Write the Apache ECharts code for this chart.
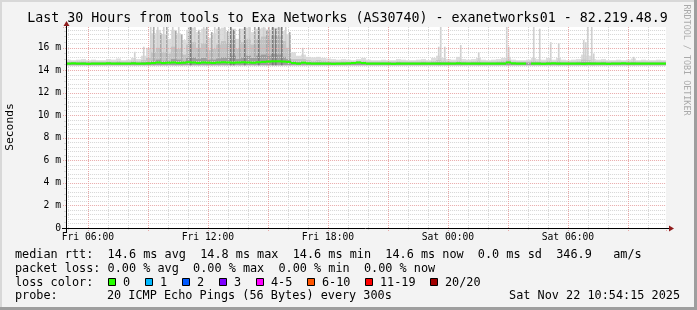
<!DOCTYPE html>
<html><head><meta charset="utf-8">
<script src="https://cdn.jsdelivr.net/npm/echarts@6/dist/echarts.min.js"></script>
<style>html,body{margin:0;padding:0;background:#f3f3f3;}#c{width:697px;height:310px;}</style>
</head><body><div id="c"></div>
<script>
// ---- time frame (hours since Fri 00:00) ----
const T0 = 4 + 54/60 + 15/3600;   // Fri 04:54:15
const T1 = T0 + 30;               // Sat 10:54:15
const AXIS_MIN = 3;               // tick origin (multiple of the 3h interval)
const STEP = 0.25;                // 15-minute buckets
const SAMPLE = 5/60;              // 5-minute sample
const LO = 14.45;                 // lowest ping (ms)
const Y_MAX = 17.85;

// ---- tick labels ----
const xTickHours  = [6, 12, 18, 24, 30];
const xTickLabels = ['Fri 06:00', 'Fri 12:00', 'Fri 18:00', 'Sat 00:00', 'Sat 06:00'];
const yTickValues = [0, 2, 4, 6, 8, 10, 12, 14, 16];
const yTickLabels = ['0', '2 m', '4 m', '6 m', '8 m', '10 m', '12 m', '14 m', '16 m'];

// ---- smoke: top of each grey band per 15-min bucket (ms) ----
const lightTop = [
  14.95,14.9,14.95,15.0,14.9,14.95,14.9,14.9,15.0,14.95,15.05,14.9,14.95,15.1,15.0,15.3,
  16.0,17.3,17.6,17.2,16.8,17.6,17.3,16.7,17.6,17.8,17.4,17.7,16.9,17.3,17.7,17.8,17.4,17.7,16.8,17.7,17.8,17.4,17.7,17.8,17.6,17.8,17.8,17.5,17.2,15.6,
  15.3,15.4,15.2,15.15,15.2,15.1,15.05,15.0,
  14.95,15.0,14.95,14.9,15.0,15.1,14.95,14.9,
  14.9,14.95,14.9,14.9,15.0,14.95,14.9,14.9,14.95,15.0,14.9,15.1,
  15.3,15.1,15.0,14.95,
  15.2,15.0,14.95,15.0,
  15.1,14.95,14.9,14.95,15.0,15.1,
  15.2,14.95,14.9,14.9,
  14.95,15.1,15.0,14.95,
  15.1,14.95,15.1,14.95,
  14.9,14.95,15.0,15.4,15.3,15.0,
  14.95,15.0,14.9,14.9,14.95,14.9,
  14.95,15.05,14.9,14.95,14.9,14.9,14.95,14.9
];
const midTop = [
  14.78,14.78,14.8,14.8,14.78,14.78,14.78,14.78,14.8,14.78,14.82,14.78,14.78,14.85,14.8,14.9,
  15.1,15.6,16.0,15.6,15.5,16.1,15.9,15.4,16.3,16.5,16.0,16.4,15.8,15.9,16.3,16.6,16.4,16.8,15.9,16.5,16.8,16.3,16.8,17.0,16.7,17.1,17.0,16.6,16.0,15.0,
  15.0,15.0,14.9,14.85,14.9,14.85,14.8,14.8,
  14.78,14.8,14.78,14.8,14.85,14.85,14.78,14.78,
  14.78,14.78,14.78,14.78,14.8,14.78,14.78,14.78,14.78,14.8,14.78,14.82,
  14.9,14.85,14.8,14.78,
  14.85,14.8,14.78,14.8,
  14.85,14.78,14.78,14.78,14.8,14.85,
  14.9,14.78,14.78,14.78,
  14.78,14.85,14.8,14.78,
  14.85,14.78,14.85,14.78,
  14.78,14.78,14.8,14.95,14.9,14.8,
  14.78,14.8,14.78,14.78,14.78,14.78,
  14.78,14.8,14.78,14.78,14.78,14.78,14.78,14.78
];
const darkTop = [
  14.68,14.68,14.68,14.7,14.68,14.68,14.68,14.68,14.7,14.68,14.7,14.68,14.68,14.72,14.68,14.72,
  14.75,14.85,14.95,14.85,14.85,15.0,14.95,14.85,15.1,15.15,15.0,15.1,14.95,14.95,15.05,15.15,15.1,15.3,15.0,15.15,15.3,15.1,15.3,15.4,15.3,15.45,15.4,15.2,15.0,14.8,
  14.75,14.75,14.72,14.7,14.72,14.7,14.7,14.7,
  14.68,14.7,14.68,14.7,14.72,14.7,14.68,14.68,
  14.68,14.68,14.68,14.68,14.7,14.68,14.68,14.68,14.68,14.7,14.68,14.7,
  14.72,14.7,14.7,14.68,
  14.7,14.7,14.68,14.7,
  14.7,14.68,14.68,14.68,14.7,14.7,
  14.72,14.68,14.68,14.68,
  14.68,14.7,14.7,14.68,
  14.7,14.68,14.7,14.68,
  14.68,14.68,14.7,14.75,14.72,14.7,
  14.68,14.7,14.68,14.68,14.68,14.68,
  14.68,14.7,14.68,14.68,14.68,14.68,14.68,14.68
];
// ---- single 5-minute samples with high spread: [hour, top ms] ----
const spikesLight = [
  [8.30,15.65],[8.75,16.1],[9.10,17.85],[9.45,17.85],[9.75,17.85],[10.20,17.85],[10.50,17.85],
  [11.30,17.85],[11.75,17.85],[12.30,17.85],[12.80,17.85],[14.05,17.85],[14.75,17.85],[15.85,17.85],
  [16.70,16.0],[23.50,16.1],[23.60,17.85],[23.80,16.1],[24.60,16.25],[25.50,15.6],[26.90,17.85],
  [27.00,16.1],[28.25,17.85],[28.55,17.7],[29.10,16.5],[29.50,16.4],[30.75,16.7],[30.85,16.5],
  [30.95,17.85],[31.15,17.85],[31.25,15.5],[33.25,15.2]
];
const spikesMid = [
  [9.25,17.85],[9.60,17.3],[9.90,17.85],[10.35,17.5],[10.65,17.2],[11.00,17.85],[11.50,17.6],[11.90,17.85],
  [12.15,17.4],[12.50,17.85],[12.95,17.5],[13.55,17.7],[14.30,17.85],[14.90,17.6],[15.00,17.85],[15.50,17.85],[16.05,17.4]
];
const spikesDark = [
  [11.10,17.85],[13.10,17.85],[13.25,17.6],[13.80,17.85],[14.50,17.85],[15.20,17.85],[15.35,17.7],[15.65,17.85]
];
// ---- median rtt per 15-min bucket (ms), null = no data ----
const median = [
  14.6,14.62,14.6,14.6,14.58,14.6,14.6,14.6,14.62,14.6,14.6,14.6,14.6,14.62,14.6,14.6,
  14.62,14.65,14.7,14.65,14.68,14.7,14.66,14.68,14.72,14.7,14.66,14.7,14.68,14.66,14.7,14.72,14.7,14.68,14.7,14.72,14.7,14.68,14.72,14.75,14.78,14.8,14.8,14.78,14.75,14.65,
  14.6,14.68,14.62,14.6,14.6,14.6,14.6,14.58,
  14.6,14.6,14.62,14.65,14.7,14.65,14.6,14.6,
  14.6,14.6,14.6,14.58,14.6,14.6,14.6,14.6,14.6,14.6,14.6,14.6,
  14.6,14.6,14.6,14.6,
  14.62,14.6,14.6,14.6,
  14.6,14.6,14.6,14.6,14.6,14.6,
  14.7,14.62,14.6,14.6,
  null,14.6,14.6,14.58,
  14.6,14.62,14.6,14.6,
  14.6,14.6,14.6,14.58,14.6,14.6,
  14.6,14.6,14.58,14.6,14.6,14.62,
  14.6,14.6,14.6,14.6,14.6,14.6,14.6,14.6
];
// ---- legend ----
const lossLabels = ['0', '1', '2', '3', '4-5', '6-10', '11-19', '20/20'];
const lossColors = ['#26ff00', '#00b8ff', '#0059ff', '#7e00ff', '#ff00ff', '#ff5500', '#ff0000', '#a10000'];
const legendRtt  = 'median rtt:  14.6 ms avg  14.8 ms max  14.6 ms min  14.6 ms now  0.0 ms sd  346.9   am/s';
const legendLoss = 'packet loss: 0.00 % avg  0.00 % max  0.00 % min  0.00 % now';
const probeText  = '20 ICMP Echo Pings (56 Bytes) every 300s';
const stampText  = 'Sat Nov 22 10:54:15 2025';
const titleText  = 'Last 30 Hours from tools to Exa Networks (AS30740) - exanetworks01 - 82.219.48.9';

// ---- build ----
const MONO = 'DejaVu Sans Mono';
const PX_PER_H = 20, PLOT_L = 66;
const gridLeft = PLOT_L - (T0 - AXIS_MIN) * PX_PER_H;
const gridWidth = (T1 - AXIS_MIN) * PX_PER_H;
const yOff = -(T0 - AXIS_MIN) * PX_PER_H;

function bucketRows(tops) {
  const out = [];
  tops.forEach((v, i) => { if (v != null) out.push([T0 + i*STEP, T0 + (i+1)*STEP, LO, v]); });
  return out;
}
function spikeRows(list) { return list.map(s => [s[0], s[0] + SAMPLE, LO, s[1]]); }
function medianRows() {
  const out = [];
  median.forEach((v, i) => { if (v != null) out.push([T0 + i*STEP, T0 + (i+1)*STEP, v]); });
  return out;
}
function rectItem(params, api) {
  const a = api.coord([api.value(0), api.value(3)]);
  const b = api.coord([api.value(1), api.value(2)]);
  return { type: 'rect', shape: { x: a[0], y: a[1], width: b[0] - a[0], height: b[1] - a[1] },
           style: { fill: api.visual('color') } };
}
function medItem(params, api) {
  const a = api.coord([api.value(0), api.value(2)]);
  const b = api.coord([api.value(1), api.value(2)]);
  return { type: 'rect', shape: { x: a[0], y: a[1] - 1.05, width: b[0] - a[0], height: 2.1 },
           style: { fill: api.visual('color') } };
}
function smoke(name, rows, color) {
  return { type: 'custom', name, renderItem: rectItem, data: rows, clip: true,
           encode: { x: [0, 1], y: [2, 3] }, itemStyle: { color }, silent: true };
}
function near(a, b) { return Math.abs(a - b) < 1e-6; }

const RED = '#e8a8a8', GREY = '#d6d6d6';
const F = '11.84px "' + MONO + '"';
const chart = echarts.init(document.getElementById('c'), null, { renderer: 'canvas' });
const graphics = [
  { type: 'rect', z: 5, shape: { x: 0, y: 20, width: 66, height: 212 }, style: { fill: '#f3f3f3' } },
  { type: 'rect', z: 6, shape: { x: 0, y: 0, width: 697, height: 2 }, style: { fill: '#d8d8d8' } },
  { type: 'rect', z: 6, shape: { x: 0, y: 0, width: 2, height: 310 }, style: { fill: '#d8d8d8' } },
  { type: 'rect', z: 6, shape: { x: 694, y: 0, width: 3, height: 310 }, style: { fill: '#9e9e9e' } },
  { type: 'rect', z: 6, shape: { x: 0, y: 307, width: 697, height: 3 }, style: { fill: '#9e9e9e' } },
  { type: 'text', z: 6, x: 347.5, y: 19, style: { text: titleText, font: '13.3px "' + MONO + '"', fill: '#000', align: 'center', verticalAlign: 'middle' } },
  { type: 'text', z: 6, x: 10.5, y: 127, rotation: Math.PI/2, style: { text: 'Seconds', font: '11.3px "' + MONO + '"', fill: '#000', align: 'center', verticalAlign: 'middle' } },
  { type: 'text', z: 6, x: 686.5, y: 60, rotation: -Math.PI/2, style: { text: 'RRDTOOL / TOBI OETIKER', font: '8.4px "' + MONO + '"', fill: '#aaaaaa', align: 'center', verticalAlign: 'middle' } },
  { type: 'line', z: 50, shape: { x1: 62, y1: 228.5, x2: 669, y2: 228.5 }, style: { stroke: '#000', lineWidth: 1 } },
  { type: 'line', z: 50, shape: { x1: 66.5, y1: 232, x2: 66.5, y2: 25 }, style: { stroke: '#000', lineWidth: 1 } },
  { type: 'polygon', z: 51, shape: { points: [[669, 225.5], [674, 228.5], [669, 231.5]] }, style: { fill: '#8f1c1c' } },
  { type: 'polygon', z: 51, shape: { points: [[63.5, 26], [66.5, 21], [69.5, 26]] }, style: { fill: '#8f1c1c' } },
  { type: 'text', z: 6, x: 15, y: 255, style: { text: legendRtt, font: F, fill: '#000', verticalAlign: 'middle' } },
  { type: 'text', z: 6, x: 15, y: 268.5, style: { text: legendLoss, font: F, fill: '#000', verticalAlign: 'middle' } },
  { type: 'text', z: 6, x: 15, y: 282.5, style: { text: 'loss color:', font: F, fill: '#000', verticalAlign: 'middle' } },
  { type: 'text', z: 6, x: 15, y: 296, style: { text: 'probe:', font: F, fill: '#000', verticalAlign: 'middle' } },
  { type: 'text', z: 6, x: 107, y: 296, style: { text: probeText, font: F, fill: '#000', verticalAlign: 'middle' } },
  { type: 'text', z: 6, x: 680, y: 296, style: { text: stampText, font: F, fill: '#000', align: 'right', verticalAlign: 'middle' } }
];
const boxX = [108, 145, 182, 219, 256, 307, 365, 430];
lossLabels.forEach((lab, i) => {
  graphics.push({ type: 'rect', z: 6, shape: { x: boxX[i] + 0.5, y: 278.5, width: 7, height: 7 },
                  style: { fill: lossColors[i], stroke: '#000', lineWidth: 1 } });
  graphics.push({ type: 'text', z: 6, x: boxX[i] + 15, y: 282.5,
                  style: { text: lab, font: F, fill: '#000', verticalAlign: 'middle' } });
});

const yBase = { type: 'value', position: 'left', min: 0, max: Y_MAX, interval: 2, offset: yOff, axisLine: { show: false } };
chart.setOption({
  animation: false,
  backgroundColor: '#f3f3f3',
  grid: { left: gridLeft, top: 27, width: gridWidth, height: 201, show: true, backgroundColor: '#ffffff', borderWidth: 0 },
  xAxis: {
    type: 'value', min: AXIS_MIN, max: T1, interval: 3, z: 3,
    axisLine: { show: false },
    axisTick: { show: true, length: 3, lineStyle: { color: RED, type: [1, 1] } },
    minorTick: { show: true, splitNumber: 3, length: 2, lineStyle: { color: GREY } },
    splitLine: { show: true, showMinLine: false, showMaxLine: false, lineStyle: { color: RED, type: [1, 1], width: 1 } },
    minorSplitLine: { show: true, lineStyle: { color: GREY, type: [1, 1], width: 1 } },
    axisLabel: {
      showMinLabel: false, showMaxLabel: false, margin: 4, fontFamily: MONO, fontSize: 9.7, color: '#000',
      formatter: v => { const k = xTickHours.findIndex(h => near(h, v)); return k >= 0 ? xTickLabels[k] : ''; }
    }
  },
  yAxis: [
    Object.assign({}, yBase, { z: 3,
      axisTick: { show: false }, axisLabel: { show: false },
      splitLine: { show: true, showMinLine: false, showMaxLine: false, lineStyle: { color: RED, type: [1, 1], width: 1 } },
      minorTick: { show: false },
      minorSplitLine: { show: true, lineStyle: { color: GREY, type: [1, 1], width: 1 } } }),
    Object.assign({}, yBase, { z: 10,
      splitLine: { show: false }, minorSplitLine: { show: false },
      axisTick: { show: true, length: 3, lineStyle: { color: RED, type: [1, 1] } },
      minorTick: { show: true, splitNumber: 4, length: 2, lineStyle: { color: GREY } },
      axisLabel: { showMaxLabel: false, margin: 5, fontFamily: MONO, fontSize: 9.7, color: '#000',
        formatter: v => { const k = yTickValues.findIndex(t => near(t, v)); return k >= 0 ? yTickLabels[k] : ''; } } })
  ],
  series: [
    smoke('light', bucketRows(lightTop), '#dcdcdc'),
    smoke('lightSpikes', spikeRows(spikesLight), '#d0d0d0'),
    smoke('mid', bucketRows(midTop), '#c2c2c2'),
    smoke('midSpikes', spikeRows(spikesMid), '#a8a8a8'),
    smoke('dark', bucketRows(darkTop), '#9c9c9c'),
    smoke('darkSpikes', spikeRows(spikesDark), '#7c7c7c'),
    { type: 'custom', name: 'median', renderItem: medItem, data: medianRows(), clip: true, z: 4,
      encode: { x: [0, 1], y: [2] }, itemStyle: { color: '#26ff00' }, silent: true }
  ],
  graphic: { elements: graphics }
});
</script></body></html>
